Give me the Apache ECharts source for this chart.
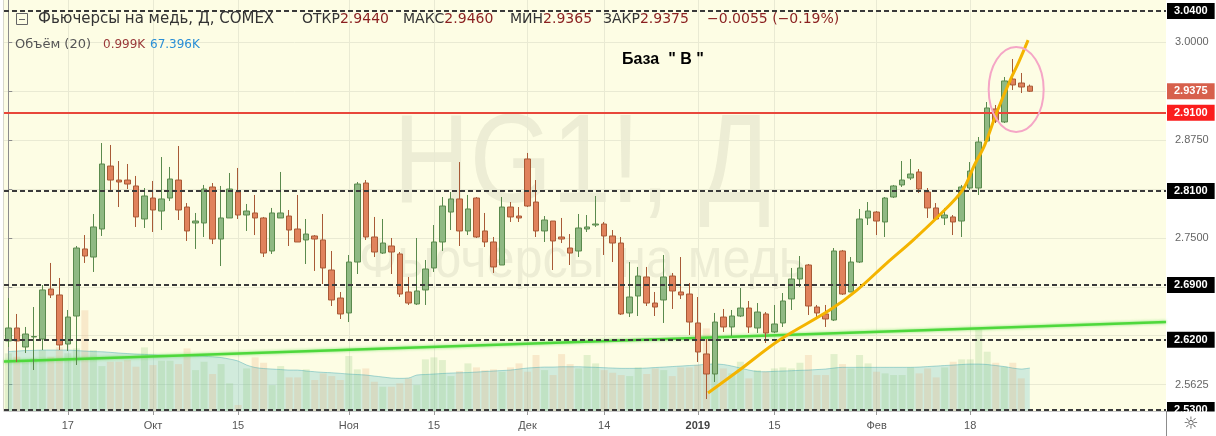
<!DOCTYPE html>
<html><head><meta charset="utf-8">
<script src="https://cdn.jsdelivr.net/npm/echarts@6/dist/echarts.min.js"></script>
<style>html,body{margin:0;padding:0;background:#fff}#c{width:1216px;height:436px}</style>
</head><body><div id="c"></div>
<script>
// ---- data ----
const opens = [
2.6183,2.6349,2.6106,2.6234,2.6208,2.6847,2.6771,2.6144,2.6502,2.7359,
2.7256,2.7614,2.8419,2.8240,2.8240,2.8164,2.7742,2.8010,2.7844,2.8010,
2.8240,2.7895,2.7691,2.7691,2.8151,2.7486,2.7755,2.8087,2.7793,2.7819,
2.7755,2.7333,2.7755,2.7780,2.7614,2.7474,2.7525,2.7474,2.7090,2.6732,
2.6541,2.7192,2.8202,2.7512,2.7307,2.7397,2.7295,2.6809,2.6656,2.6835,
2.7116,2.7448,2.7831,2.7998,2.7589,2.8010,2.7589,2.7448,2.7154,2.7895,
2.7780,2.8509,2.7959,2.7589,2.7716,2.7512,2.7371,2.7333,2.7614,2.7665,
2.7678,2.7525,2.7435,2.6541,2.6758,2.7001,2.6668,2.6707,2.7013,2.6809,
2.6783,2.6413,2.6017,2.5761,2.6489,2.6362,2.6502,2.6604,2.6349,2.6528,
2.6298,2.6413,2.6720,2.6975,2.7154,2.6617,2.6528,2.6451,2.7333,2.6809,
2.7192,2.7755,2.7831,2.7704,2.8023,2.8177,2.8266,2.8343,2.8087,2.7883,
2.7755,2.7768,2.7716,2.8138,2.8138,2.8739,2.9148,2.8982,2.9531,2.9480,
2.9440];
const closes = [
2.6349,2.6183,2.6272,2.6240,2.6835,2.6771,2.6132,2.6489,2.7371,2.7269,
2.7640,2.8445,2.8240,2.8215,2.8189,2.7768,2.8036,2.7857,2.7998,2.8253,
2.7857,2.7589,2.7716,2.8125,2.7486,2.7755,2.8125,2.7793,2.7844,2.7755,
2.7307,2.7819,2.7819,2.7601,2.7448,2.7550,2.7486,2.7116,2.6707,2.6528,
2.7192,2.8189,2.7512,2.7320,2.7435,2.7320,2.6783,2.6668,2.6822,2.7103,
2.7448,2.7908,2.7998,2.7589,2.7870,2.7512,2.7448,2.7129,2.7895,2.7768,
2.7755,2.7908,2.7589,2.7729,2.7461,2.7486,2.7307,2.7627,2.7640,2.7678,
2.7525,2.7435,2.6528,2.6745,2.7013,2.6668,2.6617,2.7001,2.6822,2.6771,
2.6425,2.6042,2.5761,2.6425,2.6362,2.6502,2.6604,2.6362,2.6553,2.6285,
2.6400,2.6694,2.6975,2.7116,2.6630,2.6541,2.6464,2.7333,2.6783,2.7192,
2.7742,2.7844,2.7716,2.8010,2.8164,2.8240,2.8317,2.8125,2.7883,2.7742,
2.7793,2.7704,2.8151,2.8355,2.8726,2.9161,2.8994,2.9506,2.9455,2.9429,
2.9375];
const lows = [
2.6106,2.5914,2.6029,2.5812,2.6068,2.6732,2.6068,2.6055,2.5876,2.7180,
2.7065,2.7525,2.8113,2.7895,2.8125,2.7640,2.7627,2.7576,2.7601,2.7972,
2.7729,2.7461,2.7359,2.7512,2.7422,2.7141,2.7755,2.7742,2.7589,2.7537,
2.7256,2.7295,2.7755,2.7397,2.7448,2.7167,2.7078,2.6911,2.6630,2.6464,
2.6425,2.7039,2.7474,2.7256,2.7295,2.7039,2.6745,2.6643,2.6643,2.6643,
2.7065,2.7333,2.7601,2.7397,2.7537,2.7499,2.7384,2.7052,2.7154,2.7704,
2.7704,2.7895,2.7512,2.7448,2.7090,2.7435,2.7154,2.7256,2.7576,2.7640,
2.7282,2.7192,2.6515,2.6489,2.6502,2.6630,2.6502,2.6413,2.6592,2.6719,
2.6259,2.5914,2.5441,2.5659,2.6298,2.6247,2.6489,2.6285,2.6285,2.6157,
2.6285,2.6362,2.6579,2.6873,2.6515,2.6489,2.6362,2.6438,2.6771,2.6809,
2.7180,2.7665,2.7537,2.7512,2.8010,2.8151,2.8240,2.8074,2.7755,2.7729,
2.7665,2.7537,2.7512,2.8113,2.8049,2.8726,2.8969,2.8969,2.9391,2.9352,
2.9365];
const highs = [
2.6732,2.6528,2.6362,2.6617,2.6898,2.7180,2.6988,2.6579,2.7397,2.7537,
2.7806,2.8713,2.8688,2.8483,2.8445,2.8292,2.8138,2.8228,2.8534,2.8407,
2.8675,2.7946,2.7819,2.8177,2.8202,2.8164,2.8330,2.8394,2.7934,2.8049,
2.7768,2.7883,2.8343,2.7857,2.8049,2.7742,2.7537,2.7806,2.7333,2.6809,
2.7282,2.8215,2.8240,2.7768,2.7742,2.7499,2.7320,2.7001,2.7499,2.7218,
2.7665,2.8023,2.8087,2.8470,2.8049,2.8023,2.7819,2.7512,2.8023,2.7959,
2.7895,2.8586,2.8240,2.7780,2.7716,2.7755,2.7550,2.7806,2.7793,2.8036,
2.7704,2.7601,2.7512,2.7192,2.7129,2.7129,2.6809,2.7282,2.7052,2.7256,
2.6924,2.6745,2.6208,2.6541,2.6592,2.6579,2.6860,2.6694,2.6668,2.6553,
2.6643,2.6796,2.7116,2.7269,2.7167,2.6643,2.6643,2.7371,2.7346,2.7256,
2.7870,2.7959,2.7844,2.8023,2.8177,2.8483,2.8509,2.8381,2.8138,2.7946,
2.7883,2.7793,2.8177,2.8470,2.8790,2.9237,2.9199,2.9557,2.9787,2.9608,
2.9460];
// volume, thousands of contracts
const volumes = [
90.4,85.1,77.3,82.6,95.6,85.1,100,90.4,98.2,158,
95.6,70.5,77.3,77.3,79.9,69.5,99.8,72.1,78.8,78.8,
73.6,98.2,64.2,77.3,58,73.6,43.4,9.4,66.8,84.1,
75.7,40.7,70.5,52.7,52.7,65.3,48.6,59,54.8,48.6,
86.2,65.3,66.8,45.9,38.1,38.1,43.4,51.2,40.7,81,
84.1,79.9,54.8,62.7,74.7,68.4,64.2,65.3,61.6,68.4,
74.7,61.6,87.8,64.2,56.4,89.3,73.6,66.8,87.8,74.7,
64.2,60,56.4,54.8,68.4,58,66.8,64.2,54.8,68.4,
68.4,72.1,129.6,75.7,66.8,59,77.3,51.2,64.2,61.6,
66.8,68.4,66.8,75.7,87.8,56.4,56.4,89.3,73.6,66.8,
87.8,74.7,61.6,59,56.4,56.4,68.4,59,66.8,52.7,
68.4,77.3,81,81,128,93,75.7,69.5,75.7,51.2,
0.999];
const volumeMA = [
93.2,94,94.8,95.1,95.6,95.6,95.6,95.6,94.8,94,
93.2,92.9,92,90.9,90.1,89.3,88.8,88.2,87.8,87.3,
87,86.7,86.2,85.7,85.1,83.8,81.5,78.4,72.1,68.2,
66.6,65.8,65,64.2,64.2,62.7,61.6,60.6,60,59,
58,57.2,56.4,54.8,53.3,51.7,51.2,51.7,56.4,57.2,
58,58.8,59.5,60,60.3,61.1,61.9,62.7,63.5,64.2,
65.8,67.4,68.2,68.9,68.9,69.4,69.4,69.4,68.9,68.5,
67.9,67.4,66.9,66.9,66.9,67.4,68.2,68.9,69.7,70.5,
71.3,72.1,73.2,73.6,72.9,70.5,67.4,64.2,61.9,61.6,
62.2,62.7,63.2,63.8,64.2,65,65.8,67.4,68.5,68.5,
68.5,68.5,68.5,68.5,68.5,68.5,68.5,68.9,69.7,70.5,
71.3,72.1,72.9,73.6,73.6,72.9,71.3,69.7,67.4,65.8,
67.396];
const xTickIndex = [7,17,27,40,50,61,70,81,90,102,113];
const xTickLabels = ['17','Окт','15','Ноя','15','Дек','14','2019','15','Фев','18'];
const yGridValues = [2.5625,2.625,2.6875,2.75,2.8125,2.875,2.9375,3.0];
const yLabelValues = [2.5625,2.75,2.875,3.0];
const levelLines = [3.04,2.81,2.69,2.62,2.53];
const resistance = 2.91;
const lastPrice = 2.9375;
const trendLine = [[-0.5,2.5922],[136,2.6425]];
const curvePts = [[82.2,2.5518],[85.9,2.5812],[90.6,2.6195],[96.5,2.6578],[99.7,2.6834],[103.2,2.7179],[106.3,2.7473],[109.4,2.7793],[112.1,2.8112],[113.5,2.8432],[114.7,2.8687],[116.1,2.9100],[117.7,2.9518],[118.7,2.9748],[119.8,3.0029]];
const ellipseAnn = [[118.4,2.9397,3.23,0.0543]];
const ohlcText = {open:'2.9440',high:'2.9460',low:'2.9365',close:'2.9375',chg:'−0.0055 (−0.19%)'};
const volText = {len:'20',vol:'0.999K',ma:'67.396K'};

// ---- chart ----
const candleData = opens.map((o,i)=>[i,o,closes[i],lows[i],highs[i]]);
const volData = volumes.map((v,i)=>[i,v]);
const maData = volumeMA.map((v,i)=>[i,v]);
const FONT = 'DejaVu Sans';
const AX = 'Liberation Sans';
const BG = '#fdfde4';
const GRIDC = '#e9ead3';

function priceLabel(bg,val){
  return {show:true,position:'end',distance:1,formatter:()=>val.toFixed(4),backgroundColor:bg,color:'#fff',fontWeight:'bold',fontFamily:AX,fontSize:11,padding:[3,7,2,7]};
}
const ml = levelLines.map(v=>({yAxis:v,lineStyle:{type:[5,3],width:2,color:'#3a3a3a'},label:priceLabel('#000',v)}));
ml.push({yAxis:resistance,lineStyle:{type:'solid',width:2,color:'#e8473a'},label:priceLabel('#fb1d1d',resistance)});
const mlLast = [{yAxis:lastPrice,lineStyle:{type:'solid',width:1,color:'rgba(0,0,0,0)'},label:priceLabel('#d7604c',lastPrice)}];

const chart = echarts.init(document.getElementById('c'),null,{renderer:'canvas'});
chart.setOption({
  animation:false,
  backgroundColor:'#ffffff',
  grid:[{left:4,right:50,top:0,bottom:25},{left:4,right:50,bottom:25,height:102}],
  xAxis:[
    {type:'value',gridIndex:0,min:-0.5,max:136,
     axisLine:{show:true,lineStyle:{color:'#c9c9c9'}},
     axisTick:{show:true,customValues:xTickIndex,length:4,lineStyle:{color:'#9a9a9a'}},
     axisLabel:{customValues:xTickIndex,color:'#555',fontFamily:AX,fontSize:11,margin:9,
       formatter:v=>{const k=xTickIndex.indexOf(Math.round(v));const t=k>=0?xTickLabels[k]:'';return t==='2019'?'{b|2019}':t;},
       rich:{b:{fontWeight:'bold',color:'#444',fontFamily:AX,fontSize:11}}},
     splitLine:{show:true,lineStyle:{color:GRIDC,width:1}}},
    {type:'value',gridIndex:1,min:-0.5,max:136,show:false,splitLine:{show:false}}
  ],
  yAxis:[
    {type:'value',gridIndex:0,position:'right',min:2.5288,max:3.0541,
     axisLine:{show:true,lineStyle:{color:'#8c8c8c'}},
     axisTick:{show:true,customValues:yGridValues,length:4,lineStyle:{color:'#8c8c8c'}},
     axisLabel:{customValues:yLabelValues,formatter:v=>v.toFixed(4),color:'#666',fontFamily:AX,fontSize:11,margin:9},
     splitLine:{show:true,lineStyle:{color:GRIDC,width:1}}},
    {type:'value',gridIndex:1,min:0,max:160,show:false,splitLine:{show:false}}
  ],
  graphic:[
    {type:'rect',shape:{x:4,y:0,width:1162,height:411},style:{fill:BG},z:-100,silent:true},
    {type:'line',shape:{x1:3.5,y1:0,x2:3.5,y2:411},style:{stroke:'#d8d8cc',lineWidth:1},z:-99},
    {type:'text',x:582,y:167,scaleX:0.84,z:-90,silent:true,
     style:{text:'HG1!, Д',font:'126px "Liberation Sans"',fill:'rgba(110,110,90,0.11)',align:'center',verticalAlign:'middle'}},
    {type:'text',x:582,y:262,scaleX:0.9,z:-90,silent:true,
     style:{text:'Фьючерсы на медь',font:'56px "Liberation Sans"',fill:'rgba(110,110,90,0.11)',align:'center',verticalAlign:'middle'}},
    // header
    {type:'rect',shape:{x:16.5,y:13.5,width:11,height:11},style:{fill:'none',stroke:'#666',lineWidth:1},z:50},
    {type:'line',shape:{x1:19,y1:19.5,x2:25,y2:19.5},style:{stroke:'#666',lineWidth:1},z:50},
    {type:'text',x:38,y:19,z:50,style:{text:'Фьючерсы на медь, Д, COMEX',font:'15px "'+FONT+'"',fill:'#333',verticalAlign:'middle'}},
    {type:'text',x:302,y:19,z:50,style:{text:'{l|ОТКР}{v|'+ohlcText.open+'}',rich:{l:{fill:'#333',font:'14px "'+FONT+'"'},v:{fill:'#8a1f1f',font:'14px "'+FONT+'"'}},verticalAlign:'middle'}},
    {type:'text',x:403,y:19,z:50,style:{text:'{l|МАКС}{v|'+ohlcText.high+'}',rich:{l:{fill:'#333',font:'14px "'+FONT+'"'},v:{fill:'#8a1f1f',font:'14px "'+FONT+'"'}},verticalAlign:'middle'}},
    {type:'text',x:510,y:19,z:50,style:{text:'{l|МИН}{v|'+ohlcText.low+'}',rich:{l:{fill:'#333',font:'14px "'+FONT+'"'},v:{fill:'#8a1f1f',font:'14px "'+FONT+'"'}},verticalAlign:'middle'}},
    {type:'text',x:603,y:19,z:50,style:{text:'{l|ЗАКР}{v|'+ohlcText.close+'}',rich:{l:{fill:'#333',font:'14px "'+FONT+'"'},v:{fill:'#8a1f1f',font:'14px "'+FONT+'"'}},verticalAlign:'middle'}},
    {type:'text',x:707,y:19,z:50,style:{text:ohlcText.chg,font:'14px "'+FONT+'"',fill:'#8a1f1f',verticalAlign:'middle'}},
    {type:'text',x:15,y:45,z:50,style:{text:'Объём ('+volText.len+')',font:'13px "'+FONT+'"',fill:'#555',verticalAlign:'middle'}},
    {type:'text',x:103,y:45,z:50,style:{text:volText.vol,font:'12px "'+FONT+'"',fill:'#9a3a3a',verticalAlign:'middle'}},
    {type:'text',x:150,y:45,z:50,style:{text:volText.ma,font:'12px "'+FONT+'"',fill:'#2a8fd6',verticalAlign:'middle'}},
    {type:'text',x:622,y:60,z:50,style:{text:'База  " В "',font:'bold 16px "Liberation Sans"',fill:'#000',verticalAlign:'middle'}},
    // bottom-right corner
    {type:'rect',shape:{x:1166.5,y:411.5,width:50,height:25},style:{fill:'#fff'},z:100},
    {type:'line',shape:{x1:1166.5,y1:411,x2:1166.5,y2:436},style:{stroke:'#8c8c8c',lineWidth:1},z:101},
    {type:'text',x:1191,y:425,z:101,style:{text:'☼',font:'17px "DejaVu Sans"',fill:'#555',align:'center',verticalAlign:'middle'}}
  ],
  series:[
    {type:'bar',name:'vol',xAxisIndex:1,yAxisIndex:1,data:volData,barWidth:7,z:1,silent:true,
     itemStyle:{color:p=>closes[p.dataIndex]>=opens[p.dataIndex]?'rgba(130,195,115,0.22)':'rgba(230,165,110,0.22)'}},
    {type:'line',name:'volMA',xAxisIndex:1,yAxisIndex:1,data:maData,smooth:0.3,showSymbol:false,symbol:'none',z:1,silent:true,
     lineStyle:{width:1,color:'rgba(70,170,180,0.45)'},areaStyle:{color:'rgba(80,185,195,0.36)'}},
    {type:'line',name:'trend',data:trendLine,symbol:'none',z:2,silent:true,
     lineStyle:{color:'#4ed83c',width:2.5,shadowBlur:3,shadowColor:'rgba(80,220,60,0.7)'}},
    {type:'candlestick',name:'HG1!',data:candleData,
     dimensions:['idx','open','close','lowest','highest'],
     encode:{x:'idx',y:['open','close','lowest','highest']},
     barWidth:6,z:3,
     itemStyle:{color:'#8fb983',color0:'#e0825c',borderColor:'#5a8a4d',borderColor0:'#a85a36',borderWidth:1},
     markLine:{symbol:['none','none'],precision:4,silent:true,animation:false,data:ml}},
    {type:'line',name:'last',data:[[120,lastPrice]],symbol:'none',z:3,silent:true,lineStyle:{width:0},
     markLine:{symbol:['none','none'],precision:4,silent:true,animation:false,data:mlLast}},
    {type:'line',name:'curve',data:curvePts,smooth:0.35,symbol:'none',z:5,silent:true,
     lineStyle:{color:'#f4b400',width:3}},
    {type:'custom',name:'ellipse',data:ellipseAnn,z:6,silent:true,clip:false,
     renderItem:(params,api)=>{
       const c=api.coord([api.value(0),api.value(1)]);
       const s=api.size([api.value(2),api.value(3)],[api.value(0),api.value(1)]);
       return {type:'ellipse',shape:{cx:c[0],cy:c[1],rx:s[0],ry:s[1]},style:{fill:'none',stroke:'#f5a6c6',lineWidth:2}};
     }}
  ]
});
</script></body></html>
